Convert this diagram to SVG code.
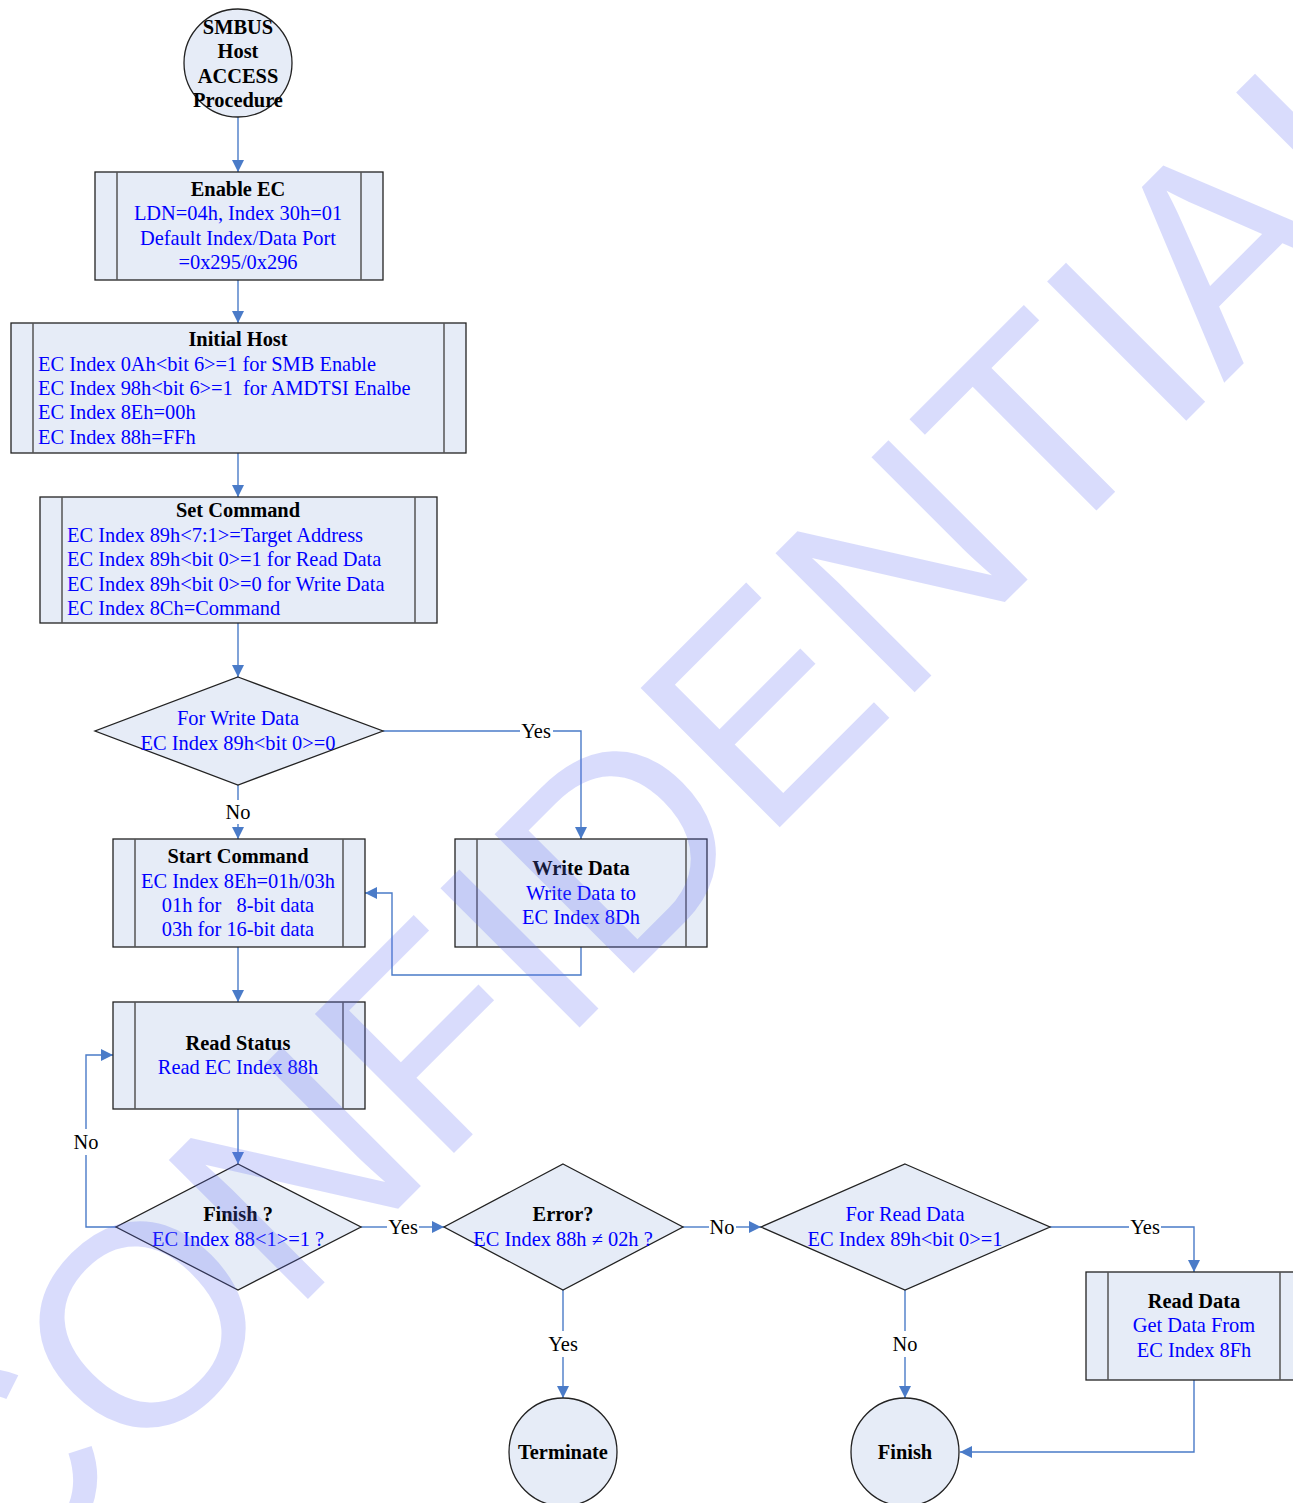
<svg xmlns="http://www.w3.org/2000/svg" width="1293" height="1503" viewBox="0 0 1293 1503">
<defs>
<style>
.shape{fill:#E6ECF7;stroke:#222;stroke-width:1.3}
.inner{stroke:#555;stroke-width:1.5;fill:none}
.t{font-family:"Liberation Serif","Times New Roman",serif;font-size:20.4px;white-space:pre}
.b{font-weight:bold;fill:#000}
.blue{fill:#0000FF}
.lbl{fill:#000}
.c{text-anchor:middle}
.conn{fill:none;stroke:#4A7BC8;stroke-width:1.4}
.wm{font-family:"Liberation Sans",Arial,sans-serif;font-size:286px;fill:rgb(97,109,242);fill-opacity:0.24}
</style>
<marker id="ah" viewBox="0 0 12 12" refX="12" refY="6" markerWidth="12" markerHeight="12" markerUnits="userSpaceOnUse" orient="auto">
<path d="M0,0 L12,6 L0,12 Z" fill="#4A7BC8"/>
</marker>
</defs>
<rect width="1293" height="1503" fill="#fff"/>

<g id="connectors">
<path class="conn" d="M238,117 L238,172" marker-end="url(#ah)"/>
<path class="conn" d="M238,280 L238,323" marker-end="url(#ah)"/>
<path class="conn" d="M238,453 L238,497" marker-end="url(#ah)"/>
<path class="conn" d="M238,623 L238,677" marker-end="url(#ah)"/>
<path class="conn" d="M383,731 L520,731"/>
<path class="conn" d="M553,731 L581,731 L581,839" marker-end="url(#ah)"/>
<text class="t lbl c" x="536" y="738">Yes</text>
<path class="conn" d="M238,785 L238,800"/>
<path class="conn" d="M238,824 L238,839" marker-end="url(#ah)"/>
<text class="t lbl c" x="238" y="819">No</text>
<path class="conn" d="M581,947 L581,975 L392,975 L392,893 L365,893" marker-end="url(#ah)"/>
<path class="conn" d="M238,947 L238,1002" marker-end="url(#ah)"/>
<path class="conn" d="M238,1109 L238,1164" marker-end="url(#ah)"/>
<path class="conn" d="M116,1227 L86,1227 L86,1155"/>
<path class="conn" d="M86,1129 L86,1055 L113,1055" marker-end="url(#ah)"/>
<text class="t lbl c" x="86" y="1149">No</text>
<path class="conn" d="M361,1227 L387,1227"/>
<path class="conn" d="M419,1227 L444,1227" marker-end="url(#ah)"/>
<text class="t lbl c" x="403" y="1234">Yes</text>
<path class="conn" d="M683,1227 L709,1227"/>
<path class="conn" d="M736,1227 L761,1227" marker-end="url(#ah)"/>
<text class="t lbl c" x="722" y="1234">No</text>
<path class="conn" d="M563,1290 L563,1331"/>
<path class="conn" d="M563,1357 L563,1398" marker-end="url(#ah)"/>
<text class="t lbl c" x="563" y="1351">Yes</text>
<path class="conn" d="M1050,1227 L1129,1227"/>
<path class="conn" d="M1161,1227 L1194,1227 L1194,1272" marker-end="url(#ah)"/>
<text class="t lbl c" x="1145" y="1234">Yes</text>
<path class="conn" d="M905,1290 L905,1331"/>
<path class="conn" d="M905,1357 L905,1398" marker-end="url(#ah)"/>
<text class="t lbl c" x="905" y="1351">No</text>
<path class="conn" d="M1194,1380 L1194,1452 L960,1452" marker-end="url(#ah)"/>
</g>

<g id="start">
<circle class="shape" cx="238" cy="63" r="54"/>
<text class="t b c" x="238" y="34">SMBUS</text>
<text class="t b c" x="238" y="58">Host</text>
<text class="t b c" x="238" y="83">ACCESS</text>
<text class="t b c" x="238" y="107">Procedure</text>
</g>

<g id="enable-ec">
<rect class="shape" x="95" y="172" width="288" height="108"/>
<line class="inner" x1="117" y1="172" x2="117" y2="280"/>
<line class="inner" x1="361" y1="172" x2="361" y2="280"/>
<text class="t b c" x="238" y="196">Enable EC</text>
<text class="t blue c" x="238" y="220">LDN=04h, Index 30h=01</text>
<text class="t blue c" x="238" y="245">Default Index/Data Port</text>
<text class="t blue c" x="238" y="269">=0x295/0x296</text>
</g>

<g id="initial-host">
<rect class="shape" x="11" y="323" width="455" height="130"/>
<line class="inner" x1="33" y1="323" x2="33" y2="453"/>
<line class="inner" x1="444" y1="323" x2="444" y2="453"/>
<text class="t b c" x="238" y="346">Initial Host</text>
<text class="t blue" x="38" y="371">EC Index 0Ah&lt;bit 6&gt;=1 for SMB Enable</text>
<text class="t blue" x="38" y="395">EC Index 98h&lt;bit 6&gt;=1  for AMDTSI Enalbe</text>
<text class="t blue" x="38" y="419">EC Index 8Eh=00h</text>
<text class="t blue" x="38" y="444">EC Index 88h=FFh</text>
</g>

<g id="set-command">
<rect class="shape" x="40" y="497" width="397" height="126"/>
<line class="inner" x1="62" y1="497" x2="62" y2="623"/>
<line class="inner" x1="415" y1="497" x2="415" y2="623"/>
<text class="t b c" x="238" y="517">Set Command</text>
<text class="t blue" x="67" y="542">EC Index 89h&lt;7:1&gt;=Target Address</text>
<text class="t blue" x="67" y="566">EC Index 89h&lt;bit 0&gt;=1 for Read Data</text>
<text class="t blue" x="67" y="591">EC Index 89h&lt;bit 0&gt;=0 for Write Data</text>
<text class="t blue" x="67" y="615">EC Index 8Ch=Command</text>
</g>

<g id="dec-write">
<polygon class="shape" points="238,677 383,731 238,785 95,731"/>
<text class="t blue c" x="238" y="725">For Write Data</text>
<text class="t blue c" x="238" y="750">EC Index 89h&lt;bit 0&gt;=0</text>
</g>

<g id="start-command">
<rect class="shape" x="113" y="839" width="252" height="108"/>
<line class="inner" x1="135" y1="839" x2="135" y2="947"/>
<line class="inner" x1="343" y1="839" x2="343" y2="947"/>
<text class="t b c" x="238" y="863">Start Command</text>
<text class="t blue c" x="238" y="888">EC Index 8Eh=01h/03h</text>
<text class="t blue c" x="238" y="912">01h for   8-bit data</text>
<text class="t blue c" x="238" y="936">03h for 16-bit data</text>
</g>

<g id="write-data">
<rect class="shape" x="455" y="839" width="252" height="108"/>
<line class="inner" x1="477" y1="839" x2="477" y2="947"/>
<line class="inner" x1="686" y1="839" x2="686" y2="947"/>
<text class="t b c" x="581" y="875">Write Data</text>
<text class="t blue c" x="581" y="900">Write Data to</text>
<text class="t blue c" x="581" y="924">EC Index 8Dh</text>
</g>

<g id="read-status">
<rect class="shape" x="113" y="1002" width="252" height="107"/>
<line class="inner" x1="135" y1="1002" x2="135" y2="1109"/>
<line class="inner" x1="343" y1="1002" x2="343" y2="1109"/>
<text class="t b c" x="238" y="1050">Read Status</text>
<text class="t blue c" x="238" y="1074">Read EC Index 88h</text>
</g>

<g id="dec-finish">
<polygon class="shape" points="238,1164 361,1227 238,1290 116,1227"/>
<text class="t b c" x="238" y="1221">Finish ?</text>
<text class="t blue c" x="238" y="1246">EC Index 88&lt;1&gt;=1 ?</text>
</g>

<g id="dec-error">
<polygon class="shape" points="563,1164 683,1227 563,1290 444,1227"/>
<text class="t b c" x="563" y="1221">Error?</text>
<text class="t blue c" x="563" y="1246">EC Index 88h ≠ 02h ?</text>
</g>

<g id="dec-read">
<polygon class="shape" points="905,1164 1050,1227 905,1290 761,1227"/>
<text class="t blue c" x="905" y="1221">For Read Data</text>
<text class="t blue c" x="905" y="1246">EC Index 89h&lt;bit 0&gt;=1</text>
</g>

<g id="read-data">
<rect class="shape" x="1086" y="1272" width="216" height="108"/>
<line class="inner" x1="1108" y1="1272" x2="1108" y2="1380"/>
<line class="inner" x1="1280" y1="1272" x2="1280" y2="1380"/>
<text class="t b c" x="1194" y="1308">Read Data</text>
<text class="t blue c" x="1194" y="1332">Get Data From</text>
<text class="t blue c" x="1194" y="1357">EC Index 8Fh</text>
</g>

<g id="terminate">
<circle class="shape" cx="563" cy="1452" r="54"/>
<text class="t b c" x="563" y="1459">Terminate</text>
</g>

<g id="finish">
<circle class="shape" cx="905" cy="1452" r="54"/>
<text class="t b c" x="905" y="1459">Finish</text>
</g>

<g id="watermark">
<text class="wm" x="-12" y="1619" transform="rotate(-45 -12 1619)">CONFIDENTIAL</text>
</g>
</svg>
